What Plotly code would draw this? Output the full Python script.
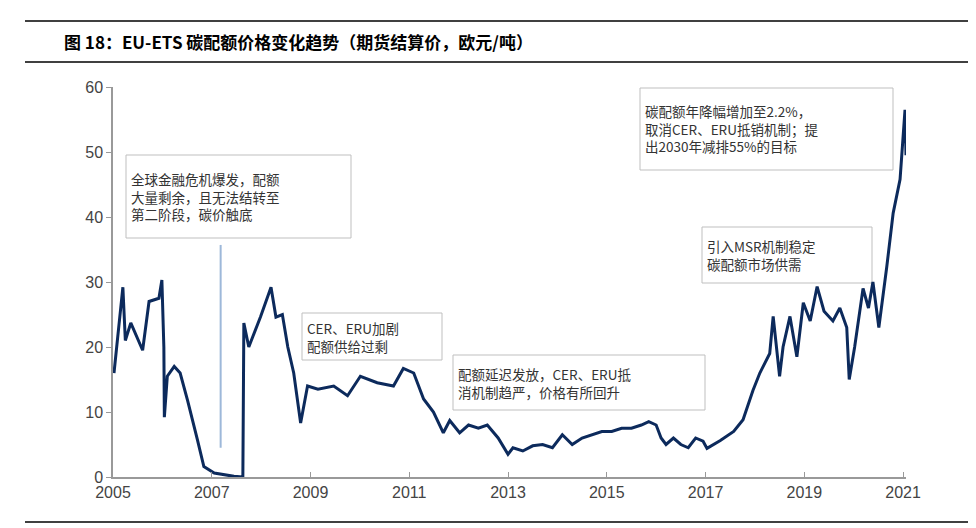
import plotly.graph_objects as go

years = [2005.02,2005.2,2005.25,2005.36,2005.6,2005.73,2005.93,2005.99,2006.03,2006.04,2006.1,2006.24,2006.36,2006.51,2006.71,2006.84,2007.05,2007.45,2007.63,
 2007.65,2007.75,2007.99,2008.2,2008.3,2008.43,2008.54,2008.66,2008.8,2008.94,2009.15,2009.47,2009.75,2010.01,2010.35,2010.68,2010.88,2011.09,2011.29,2011.49,2011.69,2011.82,2012.02,
 2012.2,2012.4,2012.58,2012.8,2013.0,2013.1,2013.3,2013.5,2013.7,2013.9,2014.1,2014.3,2014.5,2014.7,2014.9,2015.1,2015.3,2015.5,2015.7,2015.85,2016.0,2016.1,2016.2,2016.35,2016.5,2016.65,2016.8,2016.95,
 2017.03,2017.3,2017.57,2017.76,2017.96,2018.1,2018.3,2018.37,2018.5,2018.57,2018.71,2018.85,2018.98,2019.12,2019.26,2019.4,2019.58,2019.72,2019.86,2019.91,2020.02,2020.19,2020.3,2020.39,2020.51,2020.67,2020.8,2020.94,2021.04,2021.06]
prices = [16,29.2,21,23.7,19.5,27,27.5,30.3,20,9.2,15.5,17,16,11.8,5.7,1.6,0.6,0.1,0,
 23.7,20,24.7,29.2,24.6,25,20,16,8.3,14,13.5,14,12.5,15.5,14.5,14,16.7,16,12,10,6.8,8.7,6.8,
 8,7.5,8,6,3.5,4.5,4,4.8,5,4.5,6.5,5,6,6.5,7,7,7.5,7.5,8,8.5,8,6,5,6,5,4.5,6,5.5,
 4.4,5.6,7,8.8,13.3,16,19,24.7,15.5,20,24.7,18.5,26.8,24,29.3,25.5,24,26,23,15,20,29,26,30,23,32.3,40.6,45.8,56.5,49.5]
tick_years = [2005,2007,2009,2011,2013,2015,2017,2019,2021]
tick_values = [0,10,20,30,40,50,60]
notes = [
 ("全球金融危机爆发，配额<br>大量剩余，且无法结转至<br>第二阶段，碳价触底", 126, 155, 351, 238),
 ("CER、ERU加剧<br>配额供给过剩", 302, 313, 442, 360),
 ("配额延迟发放，CER、ERU抵<br>消机制趋严，价格有所回升", 453, 355, 705, 410),
 ("引入MSR机制稳定<br>碳配额市场供需", 702, 227, 872, 283),
 ("碳配额年降幅增加至2.2%，<br>取消CER、ERU抵销机制；提<br>出2030年减排55%的目标", 640, 88, 893, 170),
]

OFF = 8
L, R, T, B = 113, 906, 87, 477
def px(x): return (x - L) / (R - L)
def py(y): return (B - y) / (B - T)

fig = go.Figure(go.Scatter(x=years, y=prices, mode="lines",
                           line=dict(color="#0c2a5c", width=3), hoverinfo="skip"))
shapes = [
 dict(type="line", xref="paper", yref="paper", x0=px(25), x1=px(976), y0=py(21), y1=py(21), line=dict(color="black", width=1.5)),
 dict(type="line", xref="paper", yref="paper", x0=px(25), x1=px(976), y0=py(62), y1=py(62), line=dict(color="black", width=1.5)),
 dict(type="line", xref="paper", yref="paper", x0=px(25), x1=px(976), y0=py(522), y1=py(522), line=dict(color="black", width=1.5)),
 dict(type="line", x0=2007.18, x1=2007.18, y0=4.5, y1=35.7, line=dict(color="#9db8d9", width=2)),
]
anns = [dict(xref="paper", yref="paper", x=px(62), y=py(42), xanchor="left", yanchor="middle", showarrow=False,
             text="<b>图 18：EU-ETS 碳配额价格变化趋势（期货结算价，欧元/吨）</b>",
             font=dict(family="Noto Sans CJK SC", size=17, color="black"))]
for t, x0, y0, x1, y1 in notes:
    shapes.append(dict(type="rect", xref="paper", yref="paper", x0=px(x0), x1=px(x1), y0=py(y0), y1=py(y1),
                       line=dict(color="#bfbfbf", width=1), fillcolor="white", layer="below"))
    anns.append(dict(xref="paper", yref="paper", x=px(x0 + 3), y=py((y0 + y1) / 2), xanchor="left", yanchor="middle",
                     showarrow=False, align="left", text=t,
                     font=dict(family="Noto Sans CJK SC", size=13.5, color="#333")))
fig.update_layout(width=976, height=528, margin=dict(l=L - OFF, r=976 - R + OFF, t=T - OFF, b=528 - B + OFF),
                  paper_bgcolor="white", plot_bgcolor="white", showlegend=False,
                  shapes=shapes, annotations=anns,
                  xaxis=dict(range=[2005, 2021.06], tickvals=tick_years, ticks="inside", ticklen=5, tickcolor="#999",
                             showline=True, linecolor="#999", linewidth=1.5, showgrid=False, zeroline=False,
                             tickfont=dict(family="Liberation Sans Narrow, Arial", size=16, color="#444")),
                  yaxis=dict(range=[0, 60], tickvals=tick_values, ticks="outside", ticklen=5, tickcolor="#999",
                             showline=True, linecolor="#999", linewidth=1.5, showgrid=False, zeroline=False,
                             tickfont=dict(family="Liberation Sans Narrow, Arial", size=16, color="#444")))
fig.write_html("out.html")
